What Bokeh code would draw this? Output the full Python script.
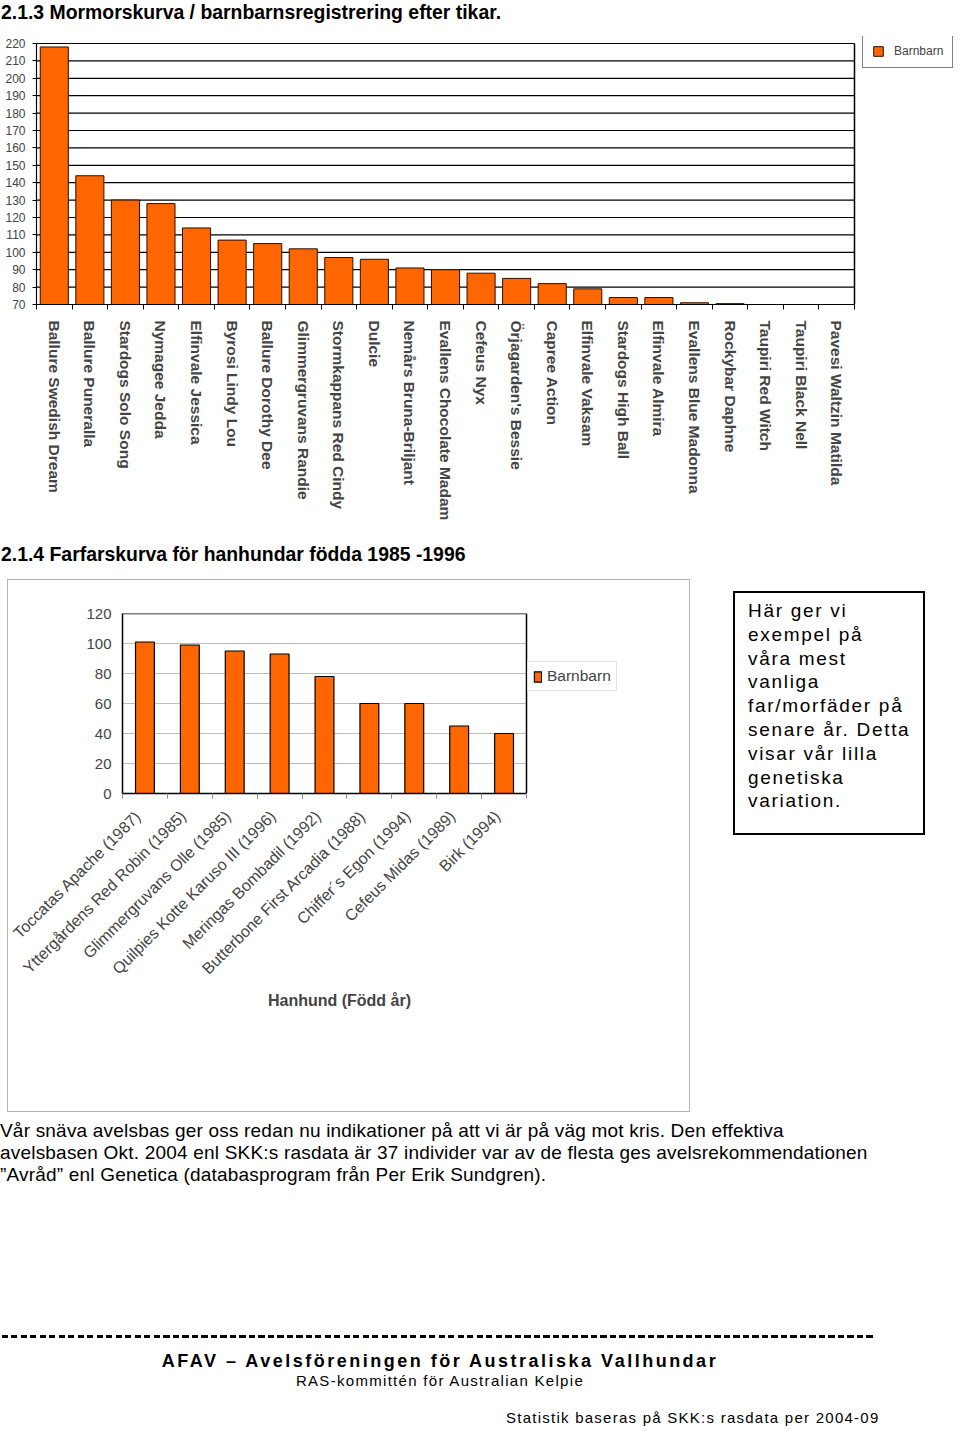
from bokeh.plotting import figure
from bokeh.models import (ColumnDataSource, FixedTicker, Legend, LegendItem, Div, Range1d)
from bokeh.layouts import column, row
from bokeh.embed import file_html
from bokeh.resources import INLINE

# ---------------- data ----------------
tikar = ["Ballure Swedish Dream", "Ballure Puneralla", "Stardogs Solo Song", "Nymagee Jedda",
         "Elfinvale Jessica", "Byrosi Lindy Lou", "Ballure Dorothy Dee", "Glimmergruvans Randie",
         "Stormkappans Red Cindy", "Dulcie", "Nemårs Bruna-Briljant", "Evallens Chocolate Madam",
         "Cefeus Nyx", "Örjagarden's Bessie", "Capree Action", "Elfinvale Vaksam",
         "Stardogs High Ball", "Elfinvale Almira", "Evallens Blue Madonna", "Rockybar Daphne",
         "Taupiri Red Witch", "Taupiri Black Nell", "Pavesi Waltzin Matilda"]
barnbarn_tik = [218, 144, 130, 128, 114, 107, 105, 102, 97, 96, 91, 90, 88, 85, 82, 79,
                74, 74, 71, 70.5, 70, 70, 70]
y1_ticks = [70, 80, 90, 100, 110, 120, 130, 140, 150, 160, 170, 180, 190, 200, 210, 220]

hanhundar = ["Toccatas Apache (1987)", "Yttergårdens Red Robin (1985)", "Glimmergruvans Olle (1985)",
             "Quilpies Kotte Karuso III (1996)", "Meringas Bombadil (1992)",
             "Butterbone First Arcadia (1988)", "Chiffer´s Egon (1994)", "Cefeus Midas (1989)",
             "Birk (1994)"]
barnbarn_hane = [101, 99, 95, 93, 78, 60, 60, 45, 40]
y2_ticks = [0, 20, 40, 60, 80, 100, 120]

ORANGE = "#FF6600"
FONT = "Liberation Sans"

# ---------------- header ----------------
div1 = Div(text='<div style="font: bold 19.4px \'Liberation Sans\'; line-height:22px; color:#000; '
                'white-space:nowrap; padding-top:1px; padding-left:1px;">'
                '2.1.3 Mormorskurva / barnbarnsregistrering efter tikar.</div>',
           width=952, height=34, margin=(0, 0, 0, 0))

# ---------------- chart 1 ----------------
# plot area: 818 px for the 23 categories, extended to the right / top for the legend
n1 = len(tikar)
x1_lo, x1_hi = -0.5, n1 - 0.5
y1_lo, y1_hi = y1_ticks[0], y1_ticks[-1]
cat_px1 = 818 / n1
frame1_w, frame1_h = 918, 268
x1_end = x1_lo + frame1_w / cat_px1
y1_end = y1_lo + (y1_hi - y1_lo) * frame1_h / 261

src1 = ColumnDataSource(dict(x=list(range(n1)), top=barnbarn_tik))
p1 = figure(width=956, height=500, output_backend="svg", toolbar_location=None,
            x_range=Range1d(x1_lo, x1_end), y_range=Range1d(y1_lo, y1_end),
            min_border_left=36, min_border_right=2, min_border_top=2, min_border_bottom=230)
p1.outline_line_color = None
p1.xgrid.visible = False
p1.ygrid.visible = False
p1.segment(x0=x1_lo, x1=x1_hi, y0=y1_ticks[1:], y1=y1_ticks[1:],
           line_color="black", line_width=1.2, level="underlay")
p1.segment(x0=x1_hi, x1=x1_hi, y0=y1_lo, y1=y1_hi, line_color="black", line_width=1.5)
r1 = p1.vbar(x="x", top="top", bottom=y1_lo, width=0.79, source=src1,
             fill_color=ORANGE, line_color="#2a1000", line_width=1)
p1.yaxis.bounds = (y1_lo, y1_hi)
p1.yaxis.ticker = FixedTicker(ticks=y1_ticks)
p1.yaxis.major_label_text_font = FONT
p1.yaxis.major_label_text_font_size = "12px"
p1.yaxis.major_label_standoff = 7
p1.yaxis.major_tick_out = 4
p1.yaxis.major_tick_in = 0
p1.yaxis.minor_tick_line_color = None
p1.yaxis.axis_line_color = "black"
p1.yaxis.axis_line_width = 1.2
p1.xaxis.bounds = (x1_lo, x1_hi)
p1.xaxis.ticker = FixedTicker(ticks=list(range(n1)),
                              minor_ticks=[i - 0.5 for i in range(n1 + 1)])
p1.xaxis.major_label_overrides = {i: t for i, t in enumerate(tikar)}
p1.xaxis.major_label_orientation = "vertical"
p1.xaxis.major_label_text_font = FONT
p1.xaxis.major_label_text_font_style = "bold"
p1.xaxis.major_label_text_font_size = "15.5px"
p1.xaxis.major_tick_line_color = None
p1.xaxis.major_tick_out = 0
p1.xaxis.major_tick_in = 0
p1.xaxis.major_label_standoff = 11
p1.xaxis.minor_tick_line_color = "black"
p1.xaxis.minor_tick_out = 5
p1.xaxis.minor_tick_in = 0
p1.xaxis.axis_line_color = "black"
p1.xaxis.axis_line_width = 1.2
leg1 = Legend(items=[LegendItem(label="Barnbarn", renderers=[r1])],
              location=(826, 236), orientation="vertical",
              border_line_color="black", border_line_width=1.2,
              label_text_font=FONT, label_text_font_size="12px",
              glyph_width=12, glyph_height=12, padding=9, spacing=0,
              label_standoff=10, margin=0, label_height=12, background_fill_alpha=1)
p1.add_layout(leg1, "center")

# ---------------- title 2 ----------------
div2 = Div(text='<div style="font: bold 19.4px \'Liberation Sans\'; line-height:22px; color:#000; '
                'white-space:nowrap; padding-top:9px; padding-left:1px;">'
                '2.1.4 Farfarskurva för hanhundar födda 1985 -1996</div>',
           width=952, height=45, margin=(0, 0, 0, 0))

# ---------------- chart 2 ----------------
n2 = len(hanhundar)
x2_lo, x2_hi = -0.5, n2 - 0.5
cat_px2 = 404 / n2
frame2_w = 498
x2_end = x2_lo + frame2_w / cat_px2
src2 = ColumnDataSource(dict(x=list(range(n2)), top=barnbarn_hane))
p2 = figure(width=683, height=533, output_backend="svg", toolbar_location=None,
            x_range=Range1d(x2_lo, x2_end), y_range=Range1d(y2_ticks[0], y2_ticks[-1]),
            min_border_left=114, min_border_right=683 - 114 - frame2_w, min_border_top=33,
            min_border_bottom=320,
            styles={"border": "1px solid #b4b4b4"}, margin=(0, 0, 0, 7))
p2.outline_line_color = None
p2.xgrid.visible = False
p2.ygrid.visible = False
p2.segment(x0=x2_lo, x1=x2_hi, y0=y2_ticks[1:-1], y1=y2_ticks[1:-1],
           line_color="#bdbdbd", line_width=1, level="underlay")
p2.segment(x0=x2_lo, x1=x2_hi, y0=y2_ticks[-1], y1=y2_ticks[-1], line_color="black", line_width=1.5)
p2.segment(x0=x2_hi, x1=x2_hi, y0=y2_ticks[0], y1=y2_ticks[-1], line_color="black", line_width=1.5)
r2 = p2.vbar(x="x", top="top", width=0.42, source=src2,
             fill_color=ORANGE, line_color="black", line_width=1.2)
p2.yaxis.ticker = FixedTicker(ticks=y2_ticks)
p2.yaxis.major_label_text_font = FONT
p2.yaxis.major_label_text_font_size = "15px"
p2.yaxis.major_label_standoff = 11
p2.yaxis.major_tick_out = 0
p2.yaxis.major_tick_in = 0
p2.yaxis.minor_tick_line_color = None
p2.yaxis.axis_line_color = "black"
p2.yaxis.axis_line_width = 1.5
label_pos = [i - 0.15 for i in range(n2)]
p2.xaxis.bounds = (x2_lo, x2_hi)
p2.xaxis.ticker = FixedTicker(ticks=label_pos,
                              minor_ticks=[i - 0.5 for i in range(n2 + 1)])
p2.xaxis.major_label_overrides = {pos: t for pos, t in zip(label_pos, hanhundar)}
p2.xaxis.major_label_orientation = 0.785398
p2.xaxis.major_label_text_font = FONT
p2.xaxis.major_label_text_font_size = "16px"
p2.xaxis.major_tick_line_color = None
p2.xaxis.major_tick_out = 0
p2.xaxis.major_tick_in = 0
p2.xaxis.major_label_standoff = 15
p2.xaxis.minor_tick_line_color = "#888888"
p2.xaxis.minor_tick_out = 5
p2.xaxis.minor_tick_in = 0
p2.xaxis.axis_line_color = "black"
p2.xaxis.axis_line_width = 1.5
# trailing em spaces move the centred title left, under the 9 bars
p2.xaxis.axis_label = "Hanhund (Född år)" + "\u2003" * 4
p2.xaxis.axis_label_text_font = FONT
p2.xaxis.axis_label_text_font_style = "bold"
p2.xaxis.axis_label_text_font_size = "16px"
p2.xaxis.axis_label_standoff = 6
leg2 = Legend(items=[LegendItem(label="Barnbarn", renderers=[r2])],
              location=(405, 102), orientation="vertical",
              border_line_color="#c8c8c8", border_line_width=1,
              label_text_font=FONT, label_text_font_size="15.5px",
              glyph_width=9, glyph_height=13, padding=5, spacing=0,
              label_standoff=5, margin=0, label_height=15, background_fill_alpha=1)
p2.add_layout(leg2, "center")

box = Div(text='<div style="box-sizing:border-box; width:192px; height:244px; border:2px solid #000; '
               'padding:6px 4px 0 13px; font: 19px \'Liberation Sans\'; letter-spacing:1.7px; '
               'line-height:23.8px; color:#000;">Här ger vi<br>exempel på<br>våra mest<br>vanliga<br>'
               'far/morfäder på<br>senare år. Detta<br>visar vår lilla<br>genetiska<br>variation.</div>',
          width=192, height=244, margin=(12, 0, 0, 43))

# ---------------- bottom texts ----------------
bottom_html = (
    '<div style="position:relative; width:952px; height:310px; font-family:\'Liberation Sans\'; color:#000;">'
    '<div style="position:absolute; left:0px; top:8px; font-size:19px; letter-spacing:0.2px; '
    'line-height:22px; white-space:nowrap;">'
    'Vår snäva avelsbas ger oss redan nu indikationer på att vi är på väg mot kris. Den effektiva<br>'
    'avelsbasen Okt. 2004 enl SKK:s rasdata är 37 individer var av de flesta ges avelsrekommendationen<br>'
    '”Avråd” enl Genetica (databasprogram från Per Erik Sundgren).</div>'
    '<div style="position:absolute; left:2px; top:223px; width:873px; height:3px; '
    'background: repeating-linear-gradient(to right, #000 0px, #000 6px, transparent 6px, transparent 9.5px);"></div>'
    '<div style="position:absolute; left:0px; width:880px; top:237px; text-align:center; font-weight:bold; '
    'font-size:18px; letter-spacing:2.5px; white-space:nowrap;">AFAV – Avelsföreningen för Australiska Vallhundar</div>'
    '<div style="position:absolute; left:0px; width:880px; top:258px; text-align:center; '
    'font-size:15px; letter-spacing:1.3px; white-space:nowrap;">RAS-kommittén för Australian Kelpie</div>'
    '<div style="position:absolute; left:506px; top:295px; font-size:15px; letter-spacing:1.25px; '
    'white-space:nowrap;">Statistik baseras på SKK:s rasdata per 2004-09</div>'
    '</div>'
)
div3 = Div(text=bottom_html, width=952, height=310, margin=(0, 0, 0, 0))

layout = column(div1, p1, div2, row(p2, box, spacing=0), div3, spacing=0)

open("out.html", "w").write(file_html(layout, INLINE))
